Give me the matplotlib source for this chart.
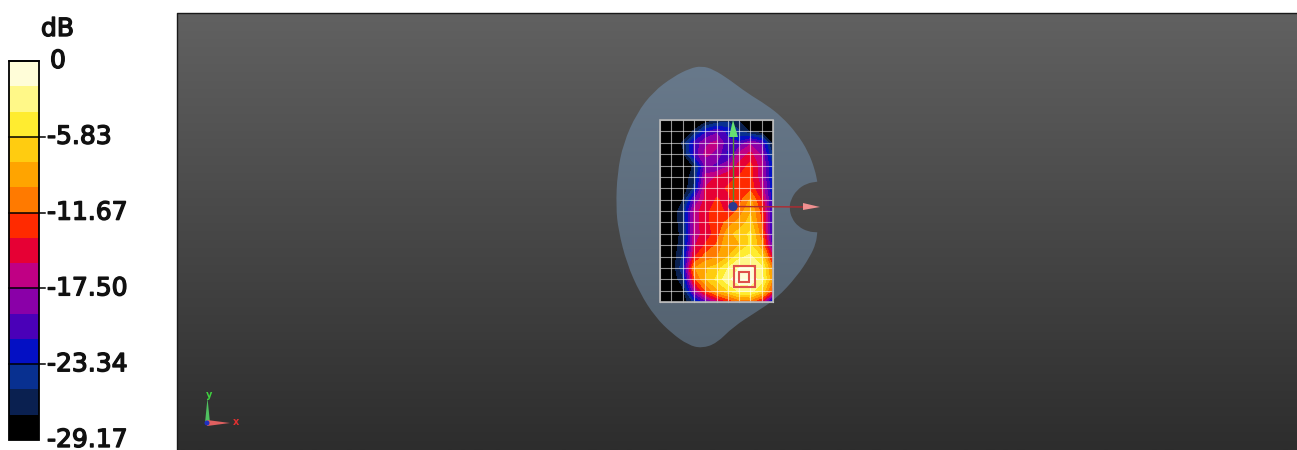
import numpy as np
import matplotlib
matplotlib.use("Agg")
import matplotlib.pyplot as plt
import matplotlib.patheffects as pe
from matplotlib.path import Path
from matplotlib.patches import Polygon, Rectangle, Circle, PathPatch
from matplotlib.colors import ListedColormap, BoundaryNorm, LinearSegmentedColormap

# --- data -----------------------------------------------------------------
DB_MIN, DB_MAX = -29.17, 0.0
tick_values = [0, -5.83, -11.67, -17.50, -23.34, -29.17]
tick_labels = ["0", "-5.83", "-11.67", "-17.50", "-23.34", "-29.17"]
band_colors = ["#000000", "#0a2050", "#083090", "#0410c4", "#4a00b8", "#8a00a8",
               "#c00084", "#e60034", "#ff2a00", "#ff7a00", "#ffa400", "#ffcc10",
               "#ffec30", "#fff888", "#fffdd8"]

# measured field in dB, 17 rows x 11 columns, top row first
field_db = np.array([
 [-29,-29,-29,-29,-29,-27.5,-26,-27.5,-29,-29,-29],
 [-29,-29,-29,-27,-22,-20,-22,-25,-27.5,-29,-29],
 [-29,-29,-27,-21,-18,-17,-21,-21,-18,-20,-28.5],
 [-29,-29,-28,-21,-17,-18,-22,-17,-15,-18,-26],
 [-29,-29,-29,-27,-19,-20,-18,-15,-13,-17,-24],
 [-29,-29,-29,-26,-17,-15.5,-14,-13.5,-13,-17,-24],
 [-29,-29,-29,-25,-15.5,-14,-13.5,-13,-12.5,-16,-24],
 [-29,-29,-27.5,-20,-15,-13.5,-14,-12.5,-9.5,-14,-23],
 [-29,-29,-26,-17,-14,-13,-14,-11,-8,-12.5,-23],
 [-29,-29,-26,-17,-14,-13,-11,-9,-7,-12,-23],
 [-29,-29,-26.5,-17,-14.5,-13,-8.5,-7,-5.5,-11,-23],
 [-29,-29,-26,-16,-13.5,-11.5,-8,-8,-5.5,-9.5,-21],
 [-29,-29,-25,-14,-11,-10,-8,-4.5,-3.5,-6,-16],
 [-29,-29,-24,-10,-8,-7,-4,-2,-1.5,-3.5,-11],
 [-29,-29,-26,-12.5,-8,-5.5,-2.5,-0.8,-0.8,-3,-10],
 [-29,-29,-28,-18,-12,-8.5,-6,-3.5,-3,-6,-13],
 [-29,-29,-29,-25,-21,-17,-14,-11.5,-11.5,-15,-26],
], dtype=float)

# phantom outline, with the notch on its right side
outline_x = [701.7,713.3,730,746.7,766.7,781.7,796.7,808.3,815,817.3,817.3,806.7,796.7,790.7,789.3,
             791.7,798.3,808.3,817.3,817.3,816,810,796.7,776.7,756.7,733.3,716.7,701.7,688.3,671.7,
             655,640,626.7,618.3,616,617.3,623.3,636.7,653.3,673.3,690]
outline_y = [66,69.3,80,92.7,105,116.7,133.3,151.7,170,181.7,181.7,183.3,190,200,208.3,218.3,226.7,
             231.7,232.3,232.3,243.3,256.7,276.7,298.3,311.7,326.7,343.3,348.3,345,333.3,316.7,293.3,
             263.3,230,206.7,173.3,143.3,113.3,91.7,76.7,68.3]

# --- figure ---------------------------------------------------------------
W, H = 1297, 450
fig = plt.figure(figsize=(W / 100, H / 100), dpi=100, facecolor="white")
ax = fig.add_axes([0, 0, 1, 1])
ax.set_xlim(0, W); ax.set_ylim(H, 0); ax.axis("off")

# view background
bg = LinearSegmentedColormap.from_list("bg", ["#616161", "#2d2d2d"])
V = (177, 1297, 450, 13)
ax.imshow(np.linspace(0, 1, 256)[:, None], cmap=bg, extent=V, aspect="auto", zorder=1,
          interpolation="bilinear")
ax.plot([177, 177, 1297], [450, 13, 13], color="#1a1a1a", lw=1, zorder=2)

# phantom: the outline points act as quadratic Bezier controls for a smooth edge
pts = np.column_stack([outline_x, outline_y])
mids = (pts + np.roll(pts, -1, axis=0)) / 2
verts = [mids[-1]]
codes = [Path.MOVETO]
for p, m in zip(pts, mids):
    verts += [p, m]
    codes += [Path.CURVE3, Path.CURVE3]
shape = PathPatch(Path(verts, codes), fc="none", ec="none")
ax.add_patch(shape)
ph = LinearSegmentedColormap.from_list("ph", ["#68798b", "#546270"])
im = ax.imshow(np.linspace(0, 1, 128)[:, None], cmap=ph, extent=(610, 825, 349, 65),
               aspect="auto", zorder=3, interpolation="bilinear")
im.set_clip_path(shape)
ax.set_xlim(0, W); ax.set_ylim(H, 0)

# field
gx = np.linspace(660, 773, field_db.shape[1])
gy = np.linspace(120, 302, field_db.shape[0])
levels = np.linspace(DB_MIN, DB_MAX, len(band_colors) + 1)
ax.add_patch(Rectangle((660, 120), 113, 182, fc="black", ec="none", zorder=4))
ax.contourf(gx, gy, field_db, levels=levels, colors=band_colors, zorder=5)
ax.set_xlim(0, W); ax.set_ylim(H, 0)
for x in gx:
    ax.plot([x, x], [gy[0], gy[-1]], color="#ffffff", alpha=0.58, lw=0.8, zorder=6)
for y in gy:
    ax.plot([gx[0], gx[-1]], [y, y], color="#ffffff", alpha=0.58, lw=0.8, zorder=6)
ax.add_patch(Rectangle((660, 120), 113, 182, fc="none", ec="#b8b8b8", lw=1.2, zorder=7))

# peak markers
for (x0, y0, s) in [(733.5, 266, 21), (738.5, 272, 10)]:
    ax.add_patch(Rectangle((x0, y0), s, s, fc="none", ec="#e0504a", lw=1.5, zorder=8))

# axes triad on the field
ax.plot([733, 733], [206, 130], color="#4f8f30", lw=1, zorder=8)
ax.add_patch(Polygon([[733, 120], [729, 137], [738, 137]], fc="#66e070", ec="none", zorder=9))
ax.plot([733, 806], [206.5, 207], color="#b02a30", lw=1, zorder=8)
ax.add_patch(Polygon([[820, 207], [803, 203], [803, 210]], fc="#f09090", ec="none", zorder=9))
ax.add_patch(Circle((733, 206.5), 4.5, fc="#2a3a90", ec="none", zorder=10))

# small triad in the corner
ax.add_patch(Polygon([[205, 423], [210, 423], [207.5, 398]], fc="#50c060", ec="none", zorder=5))
ax.add_patch(Polygon([[207, 420], [207, 426], [230, 423]], fc="#e06060", ec="none", zorder=5))
ax.add_patch(Circle((207, 423), 2.5, fc="#2030c0", ec="none", zorder=6))
ax.text(209, 395, "y", color="#40d040", fontsize=7, fontweight="bold", ha="center", va="center", zorder=6)
ax.text(236, 422, "x", color="#e03030", fontsize=7, fontweight="bold", ha="center", va="center", zorder=6)

# colour bar
cb_x0, cb_x1, cb_top, cb_bot = 9, 39, 61, 440
cmap = ListedColormap(band_colors)
norm = BoundaryNorm(levels, cmap.N)
ax.imshow(np.linspace(DB_MAX, DB_MIN, 600)[:, None], cmap=cmap, norm=norm, aspect="auto",
          extent=(cb_x0, cb_x1, cb_bot, cb_top), zorder=3, interpolation="nearest")
ax.set_xlim(0, W); ax.set_ylim(H, 0)
ax.add_patch(Rectangle((cb_x0, cb_top), cb_x1 - cb_x0, cb_bot - cb_top, fc="none", ec="black", lw=1.3, zorder=4))
thick = [pe.withStroke(linewidth=1.0, foreground="#111111")]
for v, lab in zip(tick_values, tick_labels):
    y = cb_top + (DB_MAX - v) / (DB_MAX - DB_MIN) * (cb_bot - cb_top)
    if lab != tick_labels[-1]:
        ax.plot([cb_x0, cb_x1 + 6 if lab != "0" else cb_x1], [y, y], color="black", lw=1.1, zorder=4)
    x = 50 if lab == "0" else 47
    ax.text(x, y, lab, fontsize=18, family="DejaVu Sans", color="#111111", ha="left",
            va="center", zorder=5, path_effects=thick)
ax.text(41, 29, "dB", fontsize=18, family="DejaVu Sans", color="#111111", ha="left",
        va="center", path_effects=thick)

fig.savefig("out.png", dpi=100, facecolor="white")
